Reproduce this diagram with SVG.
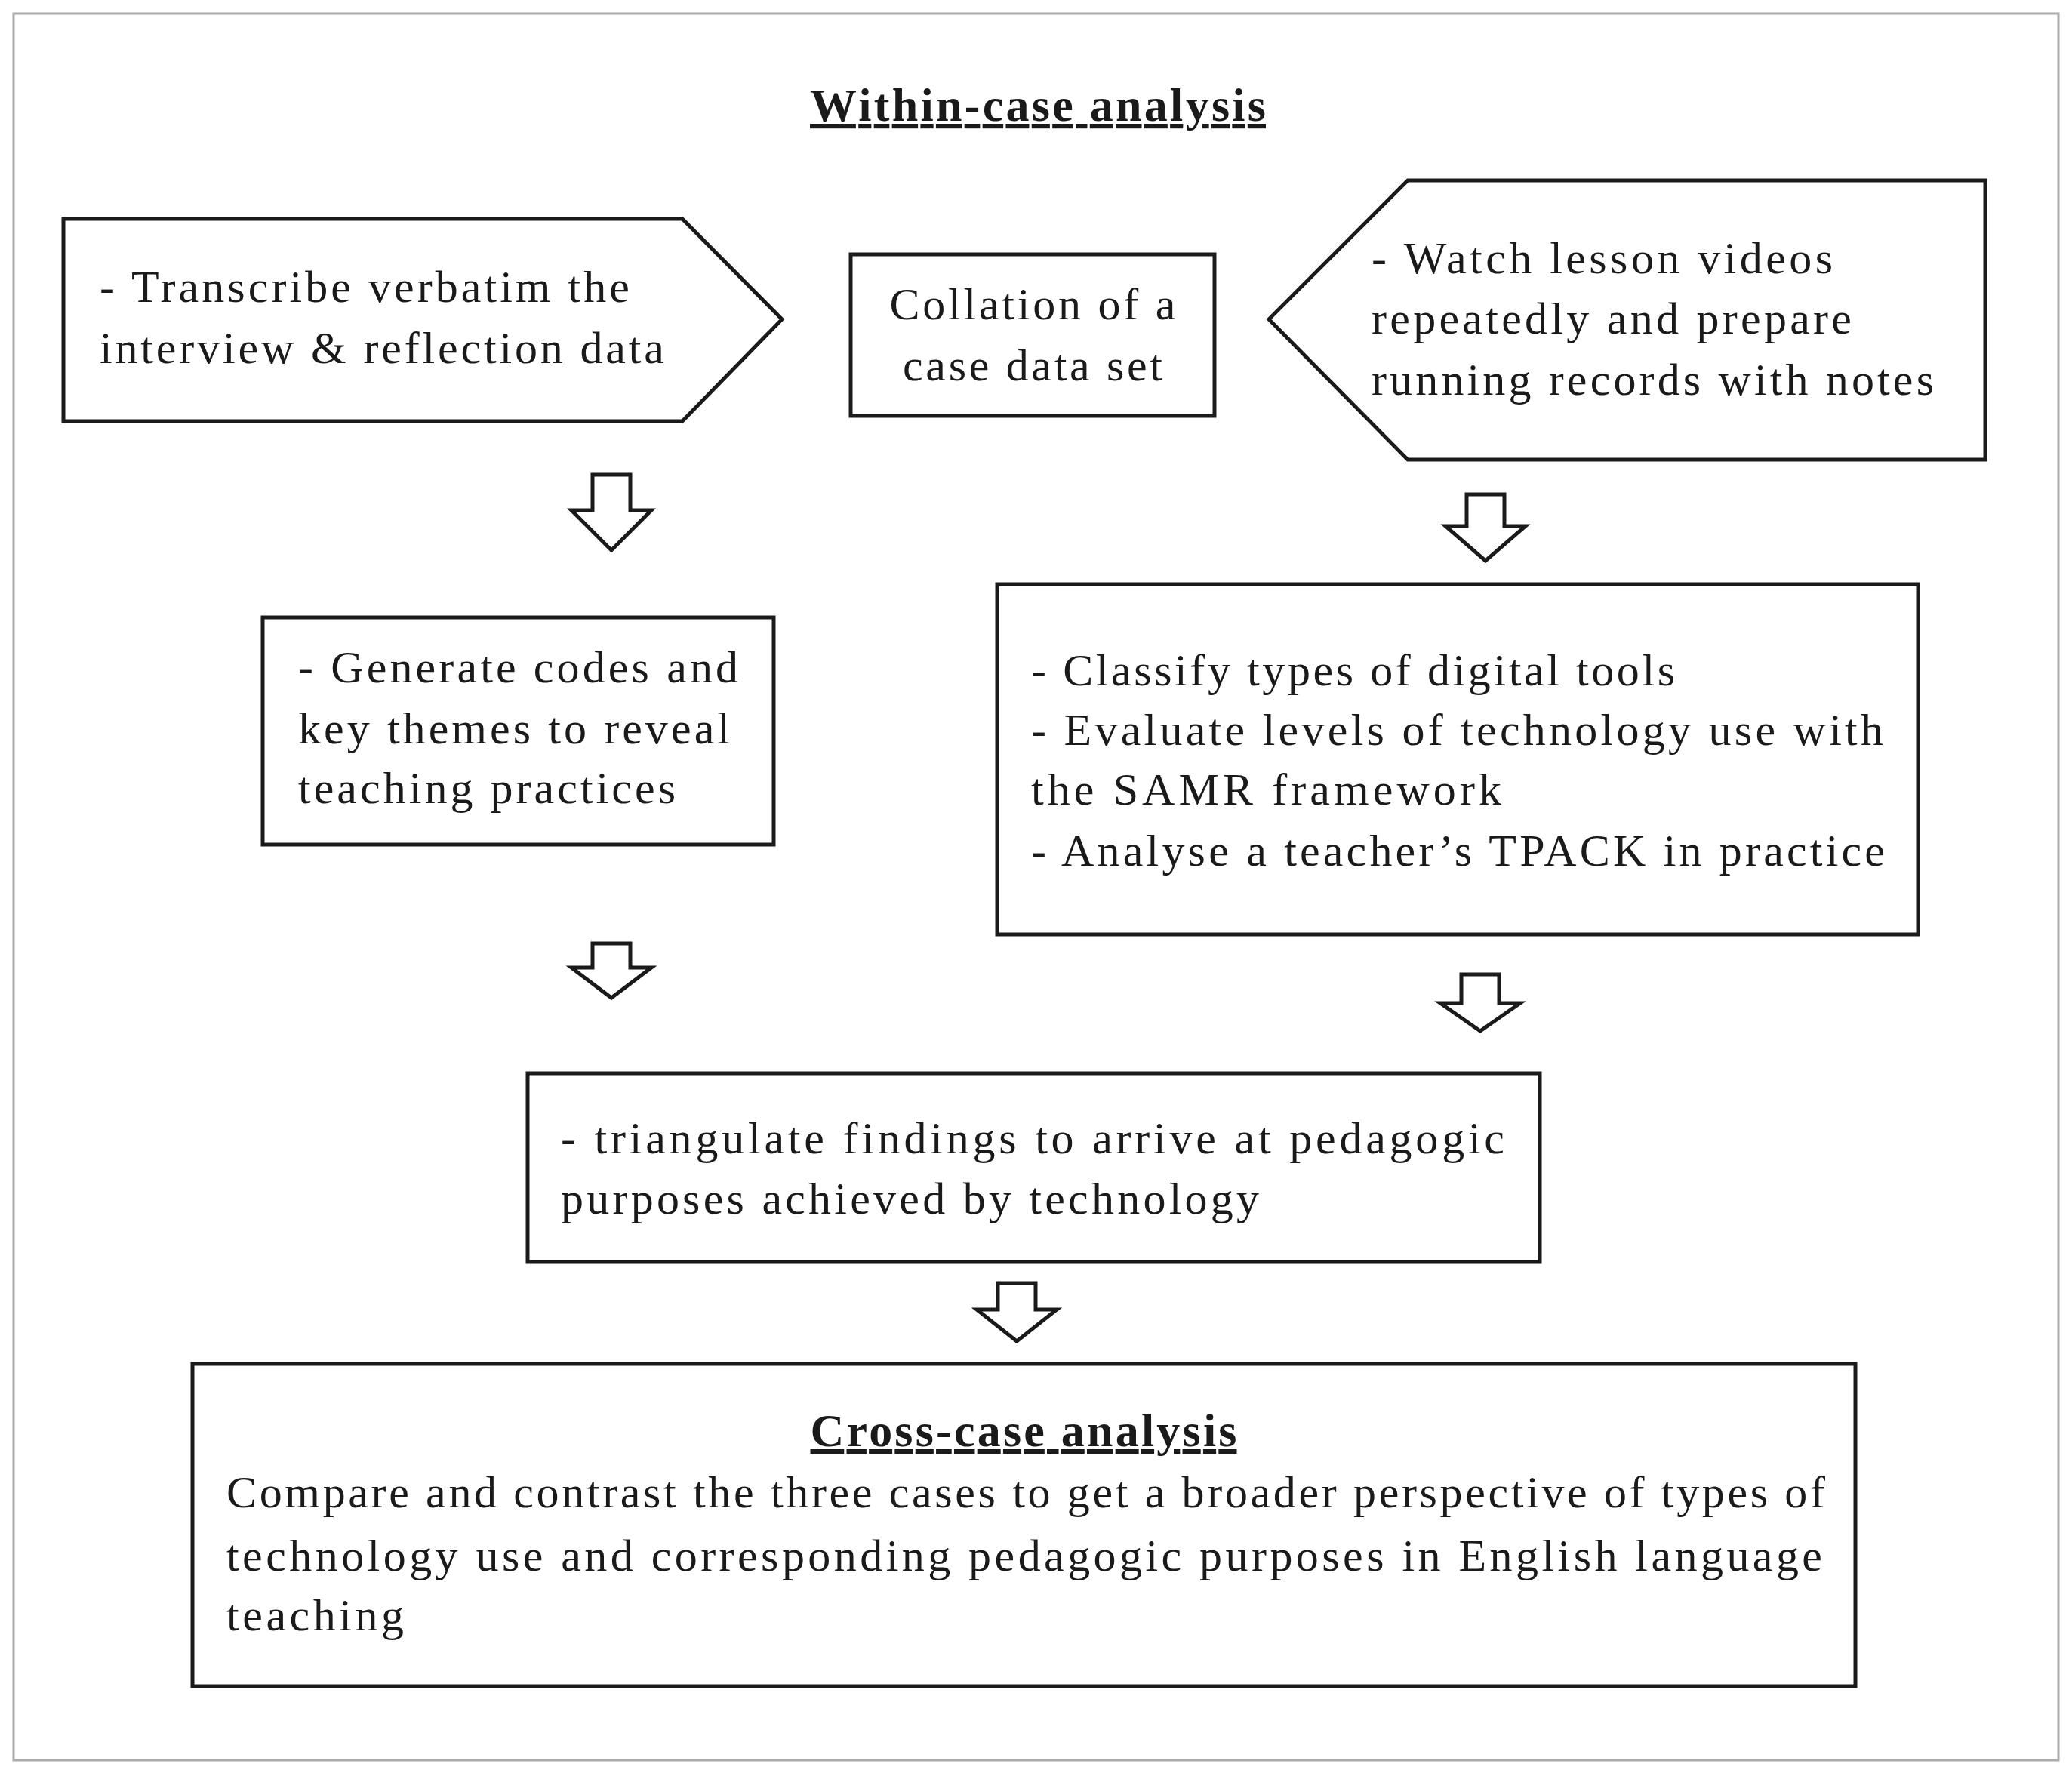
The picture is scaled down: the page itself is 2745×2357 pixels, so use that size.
<svg xmlns="http://www.w3.org/2000/svg" width="2745" height="2357" viewBox="0 0 2745 2357">
<style>
.b{fill:#fff;stroke:#1a1a1a;stroke-width:5}
.t{font-family:"Liberation Serif",serif;font-size:60px;fill:#1a1a1a}
.h{font-family:"Liberation Serif",serif;font-size:62px;font-weight:bold;fill:#1a1a1a;text-decoration:underline}
.a{fill:#fff;stroke:#1a1a1a;stroke-width:5;stroke-linejoin:miter}
</style>
<rect x="0" y="0" width="2745" height="2357" fill="#fff"/>
<rect x="18" y="18" width="2709" height="2314" fill="#fff" stroke="#aaa" stroke-width="3"/>
<text class="h" x="1375" y="160" text-anchor="middle" textLength="604">Within-case analysis</text>
<g id="transcribe"><polygon class="b" points="84,290 904,290 1036,423 904,558 84,558"/>
<text class="t" x="132" y="400" textLength="702">- Transcribe verbatim the</text>
<text class="t" x="132" y="481" textLength="748">interview &amp; reflection data</text></g>
<g id="collation"><rect class="b" x="1127" y="337" width="482" height="214"/>
<text class="t" x="1368" y="423" text-anchor="middle" textLength="379">Collation of a</text>
<text class="t" x="1368" y="504" text-anchor="middle" textLength="344">case data set</text></g>
<g id="watch"><polygon class="b" points="1681,423 1865,239 2630,239 2630,609 1865,609"/>
<text class="t" x="1817" y="362" textLength="611">- Watch lesson videos</text>
<text class="t" x="1817" y="442" textLength="636">repeatedly and prepare</text>
<text class="t" x="1817" y="523" textLength="745">running records with notes</text></g>
<g id="generate"><rect class="b" x="348" y="818" width="677" height="301"/>
<text class="t" x="395" y="904" textLength="583">- Generate codes and</text>
<text class="t" x="395" y="985" textLength="572">key themes to reveal</text>
<text class="t" x="395" y="1064" textLength="500">teaching practices</text></g>
<g id="classify"><rect class="b" x="1321" y="774" width="1220" height="464"/>
<text class="t" x="1366" y="908" textLength="853">- Classify types of digital tools</text>
<text class="t" x="1366" y="987" textLength="1129">- Evaluate levels of technology use with</text>
<text class="t" x="1366" y="1066" textLength="623">the SAMR framework</text>
<text class="t" x="1366" y="1147" textLength="1131">- Analyse a teacher’s TPACK in practice</text></g>
<g id="triangulate"><rect class="b" x="699" y="1422" width="1341" height="250"/>
<text class="t" x="743" y="1528" textLength="1250">- triangulate findings to arrive at pedagogic</text>
<text class="t" x="743" y="1608" textLength="925">purposes achieved by technology</text></g>
<g id="crosscase"><rect class="b" x="255" y="1807" width="2203" height="427"/>
<text class="h" x="1356" y="1916" text-anchor="middle" textLength="565">Cross-case analysis</text>
<text class="t" x="300" y="1997" textLength="2118">Compare and contrast the three cases to get a broader perspective of types of</text>
<text class="t" x="300" y="2081" textLength="2114">technology use and corresponding pedagogic purposes in English language</text>
<text class="t" x="300" y="2160" textLength="235">teaching</text></g>
<g id="connectors">
<polygon class="a" points="785,629 835,629 835,676 863,676 810,729 757,676 785,676"/>
<polygon class="a" points="1943,655 1993,655 1993,697 2021,697 1968,743 1915,697 1943,697"/>
<polygon class="a" points="785,1250 835,1250 835,1282 863,1282 810,1322 757,1282 785,1282"/>
<polygon class="a" points="1936,1291 1986,1291 1986,1329 2014,1329 1961,1366 1908,1329 1936,1329"/>
<polygon class="a" points="1322,1700 1372,1700 1372,1735 1400,1735 1347,1777 1294,1735 1322,1735"/>
</g>
</svg>
